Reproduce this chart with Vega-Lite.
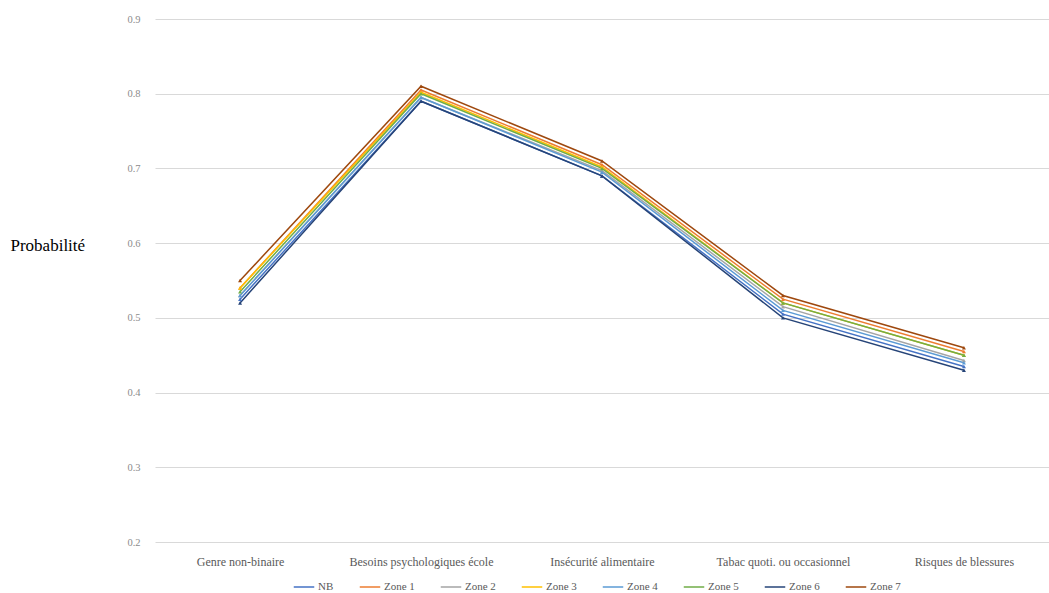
{
  "$schema": "https://vega.github.io/schema/vega-lite/v6.json",
  "width": 894,
  "height": 523,
  "autosize": {"type": "none"},
  "padding": {"left": 155, "top": 19, "right": 0, "bottom": 51},
  "background": "white",
  "config": {
    "view": {"stroke": null},
    "font": "Liberation Serif"
  },
  "data": {
    "values": [
      {"facteur": "Genre non-binaire", "groupe": "NB", "p": 0.525},
      {"facteur": "Besoins psychologiques école", "groupe": "NB", "p": 0.79},
      {"facteur": "Insécurité alimentaire", "groupe": "NB", "p": 0.69},
      {"facteur": "Tabac quoti. ou occasionnel", "groupe": "NB", "p": 0.505},
      {"facteur": "Risques de blessures", "groupe": "NB", "p": 0.435},

      {"facteur": "Genre non-binaire", "groupe": "Zone 1", "p": 0.54},
      {"facteur": "Besoins psychologiques école", "groupe": "Zone 1", "p": 0.805},
      {"facteur": "Insécurité alimentaire", "groupe": "Zone 1", "p": 0.705},
      {"facteur": "Tabac quoti. ou occasionnel", "groupe": "Zone 1", "p": 0.525},
      {"facteur": "Risques de blessures", "groupe": "Zone 1", "p": 0.455},

      {"facteur": "Genre non-binaire", "groupe": "Zone 2", "p": 0.53},
      {"facteur": "Besoins psychologiques école", "groupe": "Zone 2", "p": 0.795},
      {"facteur": "Insécurité alimentaire", "groupe": "Zone 2", "p": 0.697},
      {"facteur": "Tabac quoti. ou occasionnel", "groupe": "Zone 2", "p": 0.515},
      {"facteur": "Risques de blessures", "groupe": "Zone 2", "p": 0.443},

      {"facteur": "Genre non-binaire", "groupe": "Zone 3", "p": 0.54},
      {"facteur": "Besoins psychologiques école", "groupe": "Zone 3", "p": 0.802},
      {"facteur": "Insécurité alimentaire", "groupe": "Zone 3", "p": 0.702},
      {"facteur": "Tabac quoti. ou occasionnel", "groupe": "Zone 3", "p": 0.52},
      {"facteur": "Risques de blessures", "groupe": "Zone 3", "p": 0.45},

      {"facteur": "Genre non-binaire", "groupe": "Zone 4", "p": 0.53},
      {"facteur": "Besoins psychologiques école", "groupe": "Zone 4", "p": 0.795},
      {"facteur": "Insécurité alimentaire", "groupe": "Zone 4", "p": 0.695},
      {"facteur": "Tabac quoti. ou occasionnel", "groupe": "Zone 4", "p": 0.51},
      {"facteur": "Risques de blessures", "groupe": "Zone 4", "p": 0.44},

      {"facteur": "Genre non-binaire", "groupe": "Zone 5", "p": 0.535},
      {"facteur": "Besoins psychologiques école", "groupe": "Zone 5", "p": 0.8},
      {"facteur": "Insécurité alimentaire", "groupe": "Zone 5", "p": 0.7},
      {"facteur": "Tabac quoti. ou occasionnel", "groupe": "Zone 5", "p": 0.52},
      {"facteur": "Risques de blessures", "groupe": "Zone 5", "p": 0.45},

      {"facteur": "Genre non-binaire", "groupe": "Zone 6", "p": 0.52},
      {"facteur": "Besoins psychologiques école", "groupe": "Zone 6", "p": 0.79},
      {"facteur": "Insécurité alimentaire", "groupe": "Zone 6", "p": 0.69},
      {"facteur": "Tabac quoti. ou occasionnel", "groupe": "Zone 6", "p": 0.5},
      {"facteur": "Risques de blessures", "groupe": "Zone 6", "p": 0.43},

      {"facteur": "Genre non-binaire", "groupe": "Zone 7", "p": 0.55},
      {"facteur": "Besoins psychologiques école", "groupe": "Zone 7", "p": 0.81},
      {"facteur": "Insécurité alimentaire", "groupe": "Zone 7", "p": 0.71},
      {"facteur": "Tabac quoti. ou occasionnel", "groupe": "Zone 7", "p": 0.53},
      {"facteur": "Risques de blessures", "groupe": "Zone 7", "p": 0.46}
    ]
  },
  "mark": {
    "type": "line",
    "strokeWidth": 1.5,
    "point": {"shape": "triangle-up", "size": 16, "filled": true}
  },
  "encoding": {
    "x": {
      "field": "facteur",
      "type": "nominal",
      "sort": ["Genre non-binaire", "Besoins psychologiques école", "Insécurité alimentaire", "Tabac quoti. ou occasionnel", "Risques de blessures"],
      "scale": {"type": "point", "padding": 0.47},
      "axis": {
        "title": null,
        "labelAngle": 0,
        "labelFont": "Liberation Serif",
        "labelFontSize": 12,
        "labelColor": "#595959",
        "labelPadding": 14,
        "ticks": false,
        "domain": false,
        "grid": false
      }
    },
    "y": {
      "field": "p",
      "type": "quantitative",
      "scale": {"domain": [0.2, 0.9], "nice": false, "zero": false},
      "axis": {
        "title": "Probabilité",
        "titleAngle": 0,
        "titleX": -145,
        "titleY": 226,
        "titleAlign": "left",
        "titleBaseline": "middle",
        "titleFont": "Liberation Serif",
        "titleFontSize": 17,
        "titleFontWeight": "normal",
        "titleColor": "#000000",
        "values": [0.2, 0.3, 0.4, 0.5, 0.6, 0.7, 0.8, 0.9],
        "format": ".1f",
        "labelFont": "Liberation Serif",
        "labelFontSize": 10.5,
        "labelColor": "#8c8c8c",
        "labelPadding": 15,
        "ticks": false,
        "domain": false,
        "grid": true,
        "gridColor": "#d9d9d9",
        "gridWidth": 1
      }
    },
    "color": {
      "field": "groupe",
      "type": "nominal",
      "scale": {
        "domain": ["NB", "Zone 1", "Zone 2", "Zone 3", "Zone 4", "Zone 5", "Zone 6", "Zone 7"],
        "range": ["#4472C4", "#ED7D31", "#A5A5A5", "#FFC000", "#5B9BD5", "#70AD47", "#264478", "#9E480E"]
      },
      "legend": {
        "title": null,
        "orient": "none",
        "legendX": 138,
        "legendY": 557,
        "direction": "horizontal",
        "columns": 8,
        "symbolType": "stroke",
        "symbolSize": 420,
        "symbolStrokeWidth": 1.5,
        "labelFont": "Liberation Serif",
        "labelFontSize": 11,
        "labelColor": "#595959",
        "labelOffset": 3,
        "columnPadding": 22
      }
    }
  }
}
